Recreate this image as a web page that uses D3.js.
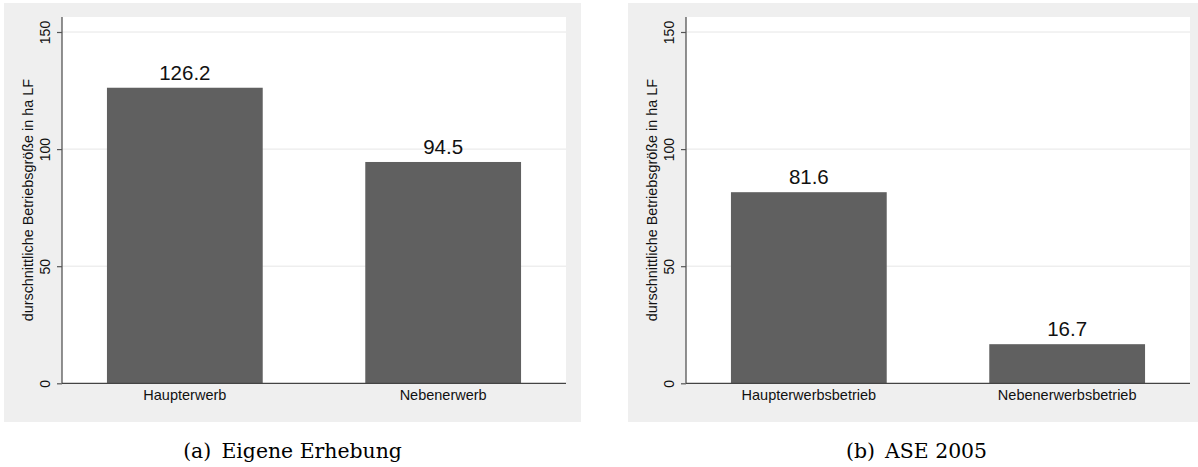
<!DOCTYPE html>
<html>
<head>
<meta charset="utf-8">
<script src="https://cdn.jsdelivr.net/npm/d3@7"></script>
<style>
  html, body { margin: 0; padding: 0; background: #ffffff; }
  svg { display: block; }
</style>
</head>
<body>
<svg id="chart" width="1198" height="467"></svg>
<script>
// ---- data ----
const categoriesA = ["Haupterwerb", "Nebenerwerb"];
const valuesA = [126.2, 94.5];
const categoriesB = ["Haupterwerbsbetrieb", "Nebenerwerbsbetrieb"];
const valuesB = [81.6, 16.7];
const yTicks = [0, 50, 100, 150];
const yGridTicks = [50, 100, 150];
const yTitle = "durschnittliche Betriebsgröße in ha LF";
const captionA = "(a)\u2002Eigene Erhebung";
const captionB = "(b)\u2002ASE 2005";

const svg = d3.select("#chart");

function panel(offsetX, cats, vals, caption) {
  const g = svg.append("g").attr("transform", `translate(${offsetX},0)`);
  const bgX0 = 4, bgX1 = 581, bgY0 = 3, bgY1 = 422;
  const plotL = 62, plotR = 566, plotT = 17;

  const y = d3.scaleLinear().domain([0, 150]).range([383.3, 32]);
  const x = d3.scaleBand().domain(cats).range([plotL, plotR])
    .paddingInner(0.397).paddingOuter(0.174);

  // outer background
  g.append("rect").attr("x", bgX0).attr("y", bgY0)
    .attr("width", bgX1 - bgX0).attr("height", bgY1 - bgY0)
    .attr("fill", "#efefef");
  // plot region
  g.append("rect").attr("x", plotL).attr("y", plotT)
    .attr("width", plotR - plotL).attr("height", y(0) - plotT)
    .attr("fill", "#ffffff");

  // grid lines
  g.append("g").selectAll("line").data(yGridTicks).join("line")
    .attr("x1", plotL).attr("x2", plotR)
    .attr("y1", d => y(d)).attr("y2", d => y(d))
    .attr("stroke", "#e6e6e6").attr("stroke-width", 1);

  // bars
  g.append("g").selectAll("rect").data(vals).join("rect")
    .attr("x", (d, i) => x(cats[i]))
    .attr("width", x.bandwidth())
    .attr("y", d => y(d))
    .attr("height", d => y(0) - y(d))
    .attr("fill", "#606060");

  // value labels
  g.append("g").selectAll("text").data(vals).join("text")
    .attr("x", (d, i) => x(cats[i]) + x.bandwidth() / 2)
    .attr("y", d => y(d) - 8)
    .attr("text-anchor", "middle")
    .attr("font-family", "Liberation Sans, Arial, sans-serif")
    .attr("font-size", "20.5px")
    .attr("fill", "#111")
    .text(d => d.toFixed(1));

  // y axis
  const yAxis = d3.axisLeft(y).tickValues(yTicks).tickSize(5).tickSizeOuter(0);
  const ya = g.append("g").attr("transform", `translate(${plotL},0)`).call(yAxis);
  ya.select(".domain").attr("d", `M0,${plotT}V${y(0)}`).attr("stroke", "#555").attr("stroke-width", 1.3);
  ya.selectAll(".tick line").attr("stroke", "#555").attr("stroke-width", 1.2);
  ya.selectAll(".tick text")
    .attr("x", null).attr("dy", null)
    .attr("transform", "translate(-12,0) rotate(-90)")
    .attr("text-anchor", "middle")
    .attr("font-family", "Liberation Sans, Arial, sans-serif")
    .attr("font-size", "14px")
    .attr("fill", "#111");

  // x axis
  const xAxis = d3.axisBottom(x).tickSize(0).tickSizeOuter(0).tickPadding(0);
  const xa = g.append("g").attr("transform", `translate(0,${y(0)})`).call(xAxis);
  xa.select(".domain").attr("d", `M${plotL},0H${plotR}`).attr("stroke", "#444").attr("stroke-width", 1.3);
  xa.selectAll(".tick text")
    .attr("y", 16.7).attr("dy", null)
    .attr("font-family", "Liberation Sans, Arial, sans-serif")
    .attr("font-size", "14.5px")
    .attr("fill", "#111");

  // y title
  g.append("text")
    .attr("transform", `translate(33,${(plotT + y(0)) / 2}) rotate(-90)`)
    .attr("text-anchor", "middle")
    .attr("font-family", "Liberation Sans, Arial, sans-serif")
    .attr("font-size", "14.4px")
    .attr("fill", "#111")
    .text(yTitle);

  // caption
  g.append("text")
    .attr("x", (bgX0 + bgX1) / 2)
    .attr("y", 458)
    .attr("text-anchor", "middle")
    .attr("font-family", "DejaVu Serif, serif")
    .attr("font-size", "20.4px")
    .attr("fill", "#000")
    .text(caption);
}

panel(0, categoriesA, valuesA, captionA);
panel(624, categoriesB, valuesB, captionB);
</script>
</body>
</html>
